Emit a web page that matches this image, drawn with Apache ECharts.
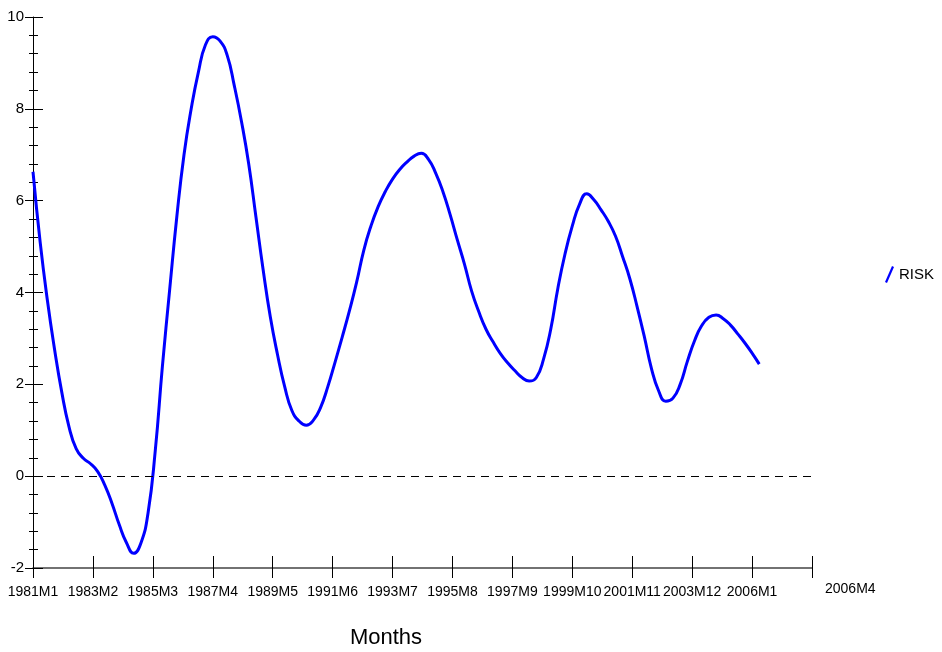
<!doctype html>
<html>
<head>
	<meta charset="utf-8">
	<title>RISK</title>
	<script src="https://cdn.jsdelivr.net/npm/echarts@6/dist/echarts.min.js"></script>
	<style>
		html, body { margin: 0; padding: 0; background: #fff; }
	</style>
</head>
<body>
	<div id="chart" style="width: 942px; height: 652px;"></div>
	<script>
		// values every 3 months, counted from 1981M1
		var months = [];
		for (var m = 0; m <= 303; m += 3) months.push(m);
		var risk = [6.63, 5.09, 3.83, 2.76, 1.83, 1.08, 0.6, 0.39, 0.27, 0.1,
			-0.2, -0.6, -1.06, -1.45, -1.68, -1.46, -0.8, 0.55, 2.4, 4.05,
			5.65, 7.0, 8.0, 8.8, 9.4, 9.57, 9.48, 9.17, 8.5, 7.72,
			6.8, 5.65, 4.5, 3.47, 2.65, 1.95, 1.43, 1.2, 1.11, 1.22,
			1.5, 1.95, 2.48, 3.03, 3.6, 4.22, 4.92, 5.45, 5.87, 6.2,
			6.47, 6.68, 6.84, 6.97, 7.03, 6.9, 6.6, 6.2, 5.7, 5.15,
			4.62, 4.03, 3.58, 3.2, 2.92, 2.67, 2.47, 2.3, 2.15, 2.07,
			2.15, 2.55, 3.2, 4.1, 4.85, 5.45, 5.92, 6.15, 6.02, 5.8,
			5.55, 5.23, 4.78, 4.3, 3.7, 3.05, 2.35, 1.86, 1.63, 1.7,
			2.0, 2.5, 2.95, 3.28, 3.46, 3.51, 3.43, 3.29, 3.1, 2.9,
			2.68, 2.44];
		var tickLabels = ['1981M1', '1983M2', '1985M3', '1987M4', '1989M5', '1991M6', '1993M7',
			'1995M8', '1997M9', '1999M10', '2001M11', '2003M12', '2006M1', '2006M4'];

		var font = '"Liberation Sans", Arial, sans-serif';
		var data = months.map(function (m, i) { return [m, risk[i]]; });

		var myChart = echarts.init(document.getElementById('chart'));

		var xBase = {
			type: 'value',
			min: 0,
			max: 325,
			interval: 25,
			splitLine: {show: false}
		};
		var yBase = {
			type: 'value',
			min: -2,
			max: 10,
			interval: 2,
			splitLine: {show: false},
			minorSplitLine: {show: false}
		};
		var lastIdx = tickLabels.length - 1;

		option = {
			animation: false,
			grid: {left: 33, right: 130, top: 17, bottom: 84, outerBoundsMode: 'none'},
			legend: {
				left: 880,
				top: 261,
				itemWidth: 9,
				itemHeight: 17,
				itemGap: 6,
				icon: 'path://M7,0 L9,1 L2,17 L0,16 Z',
				textStyle: {fontFamily: font, fontSize: 15, color: '#000'},
				data: ['RISK']
			},
			xAxis: [
				Object.assign({}, xBase, {
					position: 'bottom',
					axisLine: {onZero: false, lineStyle: {color: '#444', width: 1.5}},
					axisTick: {inside: true, length: 12, lineStyle: {color: '#000'}},
					axisLabel: {
						margin: 17,
						color: '#000',
						fontFamily: font,
						fontSize: 14,
						showMinLabel: true,
						hideOverlap: false,
						formatter: function (v) {
							var i = Math.round(v / 25);
							return i === lastIdx ? '' : tickLabels[i];
						}
					},
					name: 'Months',
					nameLocation: 'middle',
					nameGap: 59,
					nameTextStyle: {fontFamily: font, fontSize: 22, color: '#000', padding: [0, 73, 0, 0]}
				}),
				Object.assign({}, xBase, {
					position: 'bottom',
					axisLine: {show: false, onZero: false},
					axisTick: {inside: false, length: 10, lineStyle: {color: '#000'}},
					axisLabel: {
						margin: 14,
						align: 'left',
						color: '#000',
						fontFamily: font,
						fontSize: 14,
						padding: [0, 0, 0, 13],
						formatter: function (v) {
							var i = Math.round(v / 25);
							return i === lastIdx ? tickLabels[i] : '';
						}
					}
				})
			],
			yAxis: [
				Object.assign({}, yBase, {
					position: 'left',
					axisLine: {show: true, onZero: false, lineStyle: {color: '#000'}},
					axisTick: {show: true, inside: true, length: 10, lineStyle: {color: '#000'}},
					minorTick: {show: true, splitNumber: 5, length: 5, lineStyle: {color: '#000'}},
					axisLabel: {margin: 9, color: '#000', fontFamily: font, fontSize: 15}
				}),
				Object.assign({}, yBase, {
					position: 'left',
					axisLine: {show: false, onZero: false},
					axisTick: {show: true, inside: false, length: 8, lineStyle: {color: '#000'}},
					minorTick: {show: true, splitNumber: 5, length: 4, lineStyle: {color: '#000'}},
					axisLabel: {show: false}
				})
			],
			series: [
				{
					name: 'RISK',
					type: 'line',
					smooth: 0.5,
					showSymbol: false,
					symbol: 'none',
					data: data,
					lineStyle: {color: '#0000ff', width: 3},
					itemStyle: {color: '#0000ff'},
					markLine: {
						silent: true,
						symbol: 'none',
						label: {show: false},
						lineStyle: {color: '#000', type: [8, 6], width: 1},
						data: [{yAxis: 0}]
					}
				}
			]
		};

		myChart.setOption(option);
	</script>
</body>
</html>
